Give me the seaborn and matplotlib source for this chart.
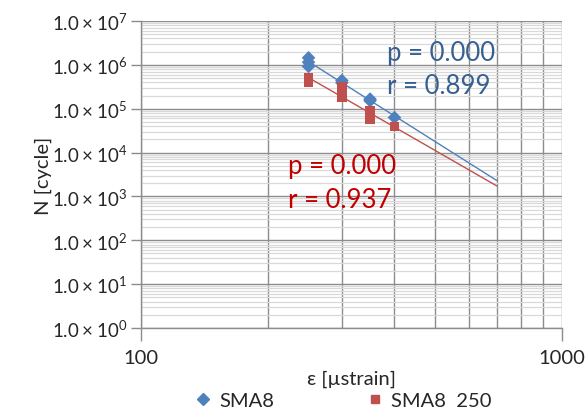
import numpy as np
import pandas as pd
import matplotlib
matplotlib.use("Agg")
import matplotlib.pyplot as plt
import matplotlib.ticker as mticker
import seaborn as sns

# dades llegides del grafic
strain_a = [250, 250, 250, 300, 300, 350, 350, 400]
cycles_a = [1.45e6, 1.15e6, 9.2e5, 4.4e5, 3.9e5, 1.66e5, 1.52e5, 6.3e4]
strain_b = [250, 250, 300, 300, 350, 350, 350, 400]
cycles_b = [5.2e5, 4.0e5, 3.1e5, 1.87e5, 8.9e4, 7.2e4, 5.8e4, 3.9e4]
labels = ["SMA8", "SMA8  250"]
stats_a = ["p = 0.000", "r = 0.899"]
stats_b = ["p = 0.000", "r = 0.937"]
trend_end = 700
yticks = [1e0, 1e1, 1e2, 1e3, 1e4, 1e5, 1e6, 1e7]

blue = "#4F81BD"
red = "#C0504D"

df = pd.DataFrame({
    "strain": strain_a + strain_b,
    "N": cycles_a + cycles_b,
    "serie": [labels[0]] * len(strain_a) + [labels[1]] * len(strain_b),
})

sns.set_theme(style="white")
plt.rcParams["font.family"] = ["Lato", "DejaVu Sans"]
plt.rcParams["mathtext.fontset"] = "custom"
plt.rcParams["mathtext.rm"] = "Lato"

W, H = 587, 414
fig = plt.figure(figsize=(W / 100, H / 100), dpi=100)
ax = fig.add_axes([141 / W, 1 - 329 / H, 421 / W, 307 / H])
ax.set_xscale("log")
ax.set_yscale("log")
ax.set_xlim(100, 1000)
ax.set_ylim(1, 1e7)

# graella
ax.set_axisbelow(True)
ax.yaxis.set_minor_locator(mticker.LogLocator(base=10, subs=np.arange(2, 10)))
ax.xaxis.set_minor_locator(mticker.LogLocator(base=10, subs=np.arange(2, 10)))
ax.xaxis.set_minor_formatter(mticker.NullFormatter())
ax.yaxis.set_minor_formatter(mticker.NullFormatter())
ax.grid(which="minor", axis="y", color="#D9D9D9", lw=0.9)
ax.grid(which="major", axis="y", color="#8C8C8C", lw=1.0)
ax.grid(which="both", axis="x", color="#8C8C8C", lw=1.0)

# linies de tendencia (ajust potencial)
for xs, ys, c in [(strain_a, cycles_a, blue), (strain_b, cycles_b, red)]:
    k, b = np.polyfit(np.log10(xs), np.log10(ys), 1)
    xx = np.array([min(xs), trend_end])
    ax.plot(xx, 10 ** (b + k * np.log10(xx)), color=c, lw=1.0, zorder=2)

sns.scatterplot(data=df, x="strain", y="N", hue="serie", style="serie",
                palette=[blue, red], markers=["D", "s"], s=48,
                edgecolor="none", ax=ax, zorder=3, legend=False)

fig.text(387 / W, 1 - 53 / H, stats_a[0], fontsize=18.5, color="#376092", va="center")
fig.text(387 / W, 1 - 87 / H, stats_a[1], fontsize=18.5, color="#376092", va="center")
fig.text(288 / W, 1 - 167 / H, stats_b[0], fontsize=18.5, color="#C00000", va="center")
fig.text(288 / W, 1 - 201 / H, stats_b[1], fontsize=18.5, color="#C00000", va="center")

ax.set_yticks(yticks)
ax.yaxis.set_major_formatter(mticker.FuncFormatter(
    lambda v, p: r"$\mathregular{1.0 \times 10^{%d}}$" % round(np.log10(v))))
ax.set_xticks([100, 1000])
ax.xaxis.set_major_formatter(mticker.FuncFormatter(lambda v, p: "%d" % v))
ax.tick_params(axis="y", which="major", length=7, width=1, color="#8C8C8C",
               labelsize=13.5, pad=3, left=True)
ax.tick_params(axis="x", which="major", length=9, width=1, color="#8C8C8C",
               labelsize=14.5, pad=6, bottom=True)
ax.tick_params(which="minor", length=0)

for s in ["top", "right"]:
    ax.spines[s].set_visible(False)
for s in ["left", "bottom"]:
    ax.spines[s].set_color("#8C8C8C")
    ax.spines[s].set_linewidth(1)

ax.set_xlabel("ε [µstrain]", fontsize=14.5, labelpad=3)
ax.set_ylabel("N [cycle]", fontsize=14.5, labelpad=0)

handles = [
    plt.Line2D([], [], marker="D", ls="", color=blue, markersize=6),
    plt.Line2D([], [], marker="s", ls="", color=red, markersize=6),
]
fig.legend(handles, labels, loc="center", bbox_to_anchor=(342 / W, 1 - 401 / H),
           ncol=2, frameon=False, fontsize=14.5, handletextpad=0.3,
           columnspacing=4.5, handlelength=1)

fig.savefig("out.png", dpi=100)
